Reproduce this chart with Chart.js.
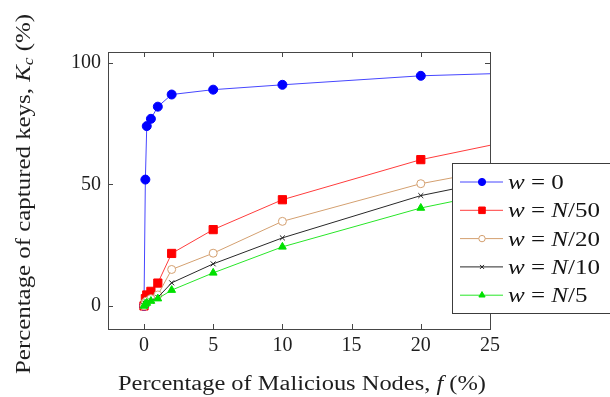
<!DOCTYPE html>
<html>
<head>
<meta charset="utf-8">
<script src="https://cdn.jsdelivr.net/npm/chart.js@4.4.1/dist/chart.umd.min.js"></script>
<style>
  html, body { margin: 0; padding: 0; background: #fff; }
  #wrap { width: 610px; height: 397px; position: relative; }
</style>
</head>
<body>
<div id="wrap"><canvas id="chart"></canvas></div>
<script>
// Data
const fValues = [0, 0.1, 0.2, 0.5, 1, 2, 5, 10, 20, 30];
const keysW0    = [0, 52, 74, 77, 82, 87, 89, 91, 94.7, 96.4];
const keysN50   = [0, 3, 4.5, 6, 9.4, 21.6, 31.4, 43.7, 60.2, 72];
const keysN20   = [0, 1.5, 2, 3, 4.5, 15, 21.7, 34.8, 50.3, 61];
const keysN10   = [0, 1, 1.5, 2, 3.5, 9.5, 17.3, 28, 45.4, 57];
const keysN5    = [0, 0.8, 1.2, 2, 3, 6.5, 13.6, 24.3, 40.3, 52];
const xTicks = [0, 5, 10, 15, 20, 25];
const yTicks = [0, 50, 100];
const legendLabels = ['0', 'N/50', 'N/20', 'N/10', 'N/5'];

const serif = '"Liberation Serif", "DejaVu Serif", serif';
const tan = 'rgb(212,160,112)';

function pts(ys) {
    return fValues.map((x, i) => ({ x: x, y: ys[i] }));
}

const series = [
    { data: keysW0,  color: 'rgb(0,0,255)',  lineColor: 'rgb(70,70,255)',  style: 'circle',   radius: 4.5, fill: 'rgb(0,0,255)', order: 4 },
    { data: keysN50, color: 'rgb(255,0,0)',  lineColor: 'rgb(255,60,60)',  style: 'rect',     radius: 5.8, fill: 'rgb(255,0,0)', order: 3 },
    { data: keysN20, color: tan,             lineColor: tan,               style: 'circle',   radius: 4,   fill: '#fff',         order: 2 },
    { data: keysN10, color: 'rgb(30,30,30)', lineColor: 'rgb(40,40,40)',   style: 'crossRot', radius: 3.5, fill: 'rgb(30,30,30)', order: 1 },
    { data: keysN5,  color: 'rgb(0,225,0)',  lineColor: 'rgb(40,230,40)',  style: 'triangle', radius: 4.5, fill: 'rgb(0,225,0)', order: 0 }
];

// frame, inner ticks, axis titles and legend box (pgfplots look)
const pgfDecor = {
    id: 'pgfDecor',
    afterDatasetsDraw(chart) {
        const ctx = chart.ctx;
        const a = chart.chartArea;
        const xs = chart.scales.x, ys = chart.scales.y;
        ctx.save();
        ctx.strokeStyle = 'rgb(70,70,70)';
        ctx.lineWidth = 1;
        ctx.strokeRect(a.left + 0.5, a.top + 0.5, a.right - a.left, a.bottom - a.top);
        ctx.beginPath();
        xTicks.forEach(v => {
            const px = Math.round(xs.getPixelForValue(v)) + 0.5;
            ctx.moveTo(px, a.bottom); ctx.lineTo(px, a.bottom - 5);
            ctx.moveTo(px, a.top);    ctx.lineTo(px, a.top + 5);
        });
        yTicks.forEach(v => {
            const py = Math.round(ys.getPixelForValue(v)) + 0.5;
            ctx.moveTo(a.left, py);  ctx.lineTo(a.left + 5, py);
            ctx.moveTo(a.right, py); ctx.lineTo(a.right - 5, py);
        });
        ctx.stroke();

        // text runs with mixed fonts, stretched a bit to get the wide TeX look
        const measure = parts => parts.reduce((w, p) => { ctx.font = p.font; return w + ctx.measureText(p.t).width; }, 0);
        const pieces = (parts, x, y, k) => {
            ctx.save();
            ctx.translate(x, y);
            ctx.scale(k, 1);
            let cx = 0;
            parts.forEach(p => {
                ctx.font = p.font;
                ctx.fillText(p.t, cx, p.dy || 0);
                cx += ctx.measureText(p.t).width;
            });
            ctx.restore();
        };

        ctx.fillStyle = 'rgb(30,30,30)';
        ctx.textBaseline = 'alphabetic';
        ctx.textAlign = 'left';
        const fs = 20;
        const up = fs + 'px ' + serif, it = 'italic ' + fs + 'px ' + serif, sub = 'italic 14px ' + serif;

        const xTitle = [{ t: 'Percentage of Malicious Nodes, ', font: up }, { t: 'f', font: it }, { t: ' (%)', font: up }];
        const xw = 368, xk = xw / measure(xTitle);
        pieces(xTitle, 302 - xw / 2, 390, xk);

        const yTitle = [{ t: 'Percentage of captured keys, ', font: up }, { t: 'K', font: it }, { t: 'c', font: sub, dy: 3 }, { t: ' (%)', font: up }];
        const yw = 360, yk = yw / measure(yTitle);
        ctx.save();
        ctx.translate(30, 194);
        ctx.rotate(-Math.PI / 2);
        pieces(yTitle, -yw / 2, 0, yk);
        ctx.restore();

        // legend
        const lx = 452, ly = 163, lw = 200, lh = 150;
        ctx.fillStyle = '#fff';
        ctx.fillRect(lx, ly, lw, lh);
        ctx.strokeStyle = 'rgb(60,60,60)';
        ctx.strokeRect(lx + 0.5, ly + 0.5, lw, lh);
        series.forEach((s, i) => {
            const y = 182 + i * 28.3;
            ctx.strokeStyle = s.lineColor;
            ctx.lineWidth = 1;
            ctx.beginPath();
            ctx.moveTo(460, y); ctx.lineTo(503, y);
            ctx.stroke();
            ctx.fillStyle = s.fill;
            ctx.strokeStyle = s.color;
            Chart.helpers.drawPoint(ctx, { pointStyle: s.style, radius: s.radius * 0.8, borderWidth: 1 }, 482, y);
            ctx.fillStyle = 'rgb(20,20,20)';
            const lab = legendLabels[i];
            const parts = [{ t: 'w', font: 'italic 20px ' + serif }, { t: ' = ', font: '20px ' + serif }];
            if (lab.startsWith('N')) {
                parts.push({ t: 'N', font: 'italic 20px ' + serif }, { t: lab.slice(1), font: '20px ' + serif });
            } else {
                parts.push({ t: lab, font: '20px ' + serif });
            }
            pieces(parts, 508, y + 7, 1.25);
        });
        ctx.restore();
    }
};

const ctx = document.getElementById('chart');
new Chart(ctx, {
    type: 'scatter',
    data: {
        datasets: series.map(s => ({
            data: pts(s.data),
            showLine: true,
            borderColor: s.lineColor,
            borderWidth: 1,
            pointStyle: s.style,
            pointRadius: s.radius,
            pointBackgroundColor: s.fill,
            pointBorderColor: s.color,
            pointBorderWidth: 1,
            order: s.order
        }))
    },
    options: {
        responsive: true,
        maintainAspectRatio: false,
        animation: false,
        devicePixelRatio: 1,
        layout: { padding: { left: 0, top: 52, right: 120, bottom: 0 } },
        plugins: { legend: { display: false }, tooltip: { enabled: false } },
        scales: {
            x: {
                type: 'linear', min: -2.6, max: 25,
                afterBuildTicks: s => { s.ticks = xTicks.map(v => ({ value: v })); },
                afterFit: s => { s.height = 68; },
                grid: { display: false, drawTicks: false },
                border: { display: false },
                ticks: { color: 'rgb(30,30,30)', font: { family: serif, size: 20 }, padding: 5, maxRotation: 0 }
            },
            y: {
                type: 'linear', min: -9.5, max: 104.5,
                afterBuildTicks: s => { s.ticks = yTicks.map(v => ({ value: v })); },
                afterFit: s => { s.width = 108; },
                grid: { display: false, drawTicks: false },
                border: { display: false },
                ticks: { color: 'rgb(30,30,30)', font: { family: serif, size: 20 }, padding: 7 }
            }
        }
    },
    plugins: [pgfDecor]
});
</script>
</body>
</html>
